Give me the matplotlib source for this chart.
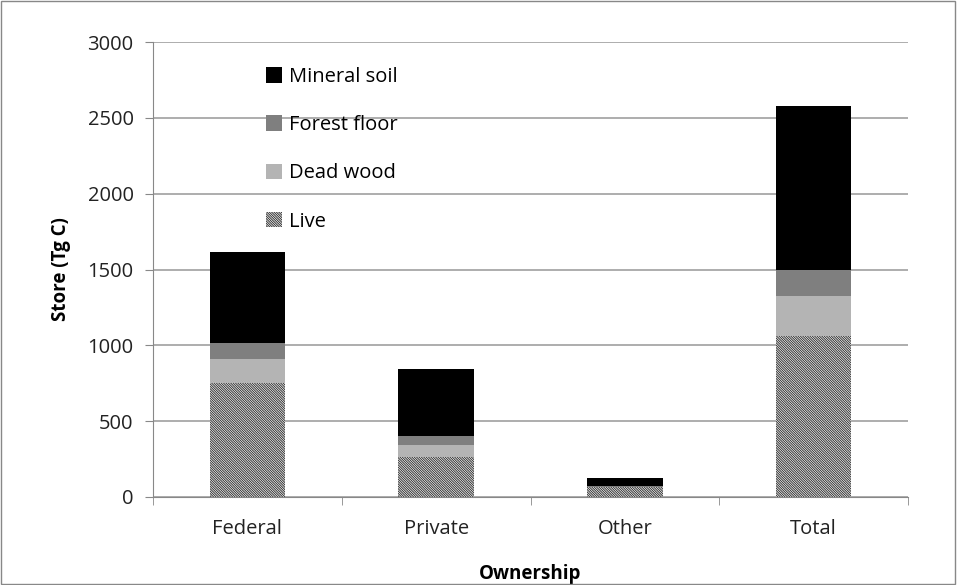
import numpy as np
import matplotlib.pyplot as plt
from matplotlib.patches import Rectangle

plt.rcParams['font.family'] = ['Open Sans', 'DejaVu Sans']
plt.rcParams['hatch.linewidth'] = 0.7

# data (Tg C)
categories = ["Federal", "Private", "Other", "Total"]
live = [752, 266, 65, 1063]
dead_wood = [158, 77, 4, 262]
forest_floor = [105, 59, 3, 172]
mineral_soil = [600, 440, 51, 1081]

fig = plt.figure(figsize=(9.57, 5.85), dpi=100)
ax = fig.add_axes([153 / 957, 1 - 497 / 585, 755 / 957, 455 / 585])

x = np.arange(len(categories))
w = 0.4
b1 = np.array(live)
b2 = b1 + np.array(dead_wood)
b3 = b2 + np.array(forest_floor)

ax.bar(x, live, w, color="white", edgecolor="#333333", hatch="\\" * 14, linewidth=0, label="Live", zorder=2)
ax.bar(x, dead_wood, w, bottom=b1, color="#b4b4b4", linewidth=0, label="Dead wood", zorder=2)
ax.bar(x, forest_floor, w, bottom=b2, color="#7f7f7f", linewidth=0, label="Forest floor", zorder=2)
ax.bar(x, mineral_soil, w, bottom=b3, color="black", linewidth=0, label="Mineral soil", zorder=2)

ax.set_xlim(-0.5, 3.5)
ax.set_ylim(0, 3000)
ax.set_yticks(range(0, 3001, 500))
ax.set_xticks(x)
ax.set_xticklabels(categories)
ax.set_xticks(np.arange(-0.5, 3.6, 1), minor=True)
ax.tick_params(axis="x", which="major", length=0, labelsize=14.5, pad=16, colors="#222222")
ax.tick_params(axis="x", which="minor", length=6, color="#888888", direction="out")
ax.tick_params(axis="y", length=6, color="#888888", labelsize=14.5, pad=8, colors="#222222")
ax.grid(axis="y", color="#a0a0a0", linewidth=1.2, zorder=0)
for s in ["top", "right"]:
    ax.spines[s].set_visible(False)
ax.spines["left"].set_color("#888888")
ax.spines["bottom"].set_color("#888888")

ax.set_ylabel("Store (Tg C)", fontsize=13.5, fontweight="bold", labelpad=12)
ax.set_xlabel("Ownership", fontsize=13.5, fontweight="bold", labelpad=18)

h, l = ax.get_legend_handles_labels()
leg = ax.legend(h[::-1], l[::-1], loc="upper left", bbox_to_anchor=(0.125, 0.985), frameon=False,
                fontsize=14.5, handlelength=0.8, handleheight=0.8, handletextpad=0.35, labelspacing=1.4)

fig.add_artist(Rectangle((0.001, 0.001), 0.997, 0.997, transform=fig.transFigure,
                         fill=False, edgecolor="#888888", linewidth=1))

fig.savefig("out.png", dpi=100)
